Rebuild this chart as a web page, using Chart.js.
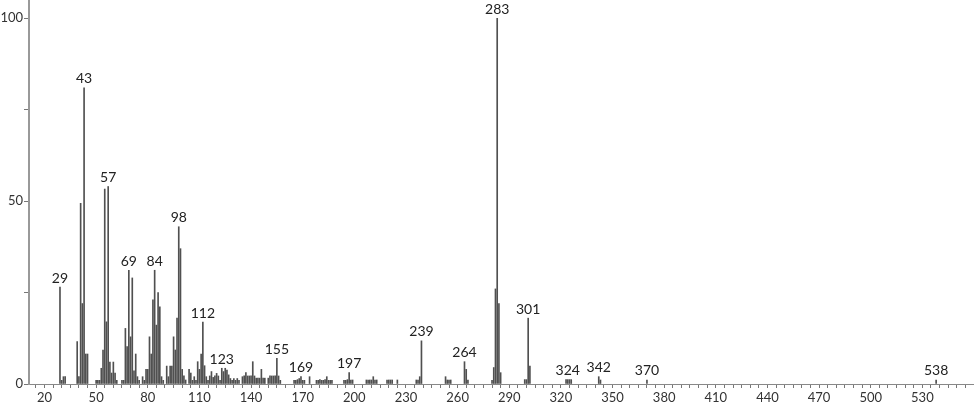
<!DOCTYPE html>
<html>
<head>
<meta charset="utf-8">
<script src="https://cdn.jsdelivr.net/npm/chart.js@4.4.0/dist/chart.umd.min.js"></script>
<style>
    html, body { margin: 0; padding: 0; background: #fff; }
    #box { width: 974px; height: 406px; }
</style>
</head>
<body>
<div id="box"><canvas id="espectro"></canvas></div>
<script>
// m/z and relative intensity
const massas = [
    29, 30, 31, 32, 39, 40, 41, 42, 43, 44, 45,
    50, 51, 52, 53, 54, 55, 56, 57, 58, 59, 60, 61, 62, 65, 66,
    67, 68, 69, 70, 71, 72, 73, 74, 75, 77, 78, 79, 80,
    81, 82, 83, 84, 85, 86, 87, 88, 89, 91, 92, 93, 94, 95, 96, 97, 98, 99,
    100, 101, 102, 104, 105, 106, 107, 108, 109, 110, 111, 112, 113, 114, 115,
    116, 117, 118, 119, 120, 121, 122, 123, 124, 125, 126, 127, 128, 129, 130,
    131, 132, 133, 135, 136, 137, 138, 139, 140, 141, 142, 143, 144, 145, 146,
    147, 148, 150, 151, 152, 153, 154, 155, 156, 157,
    165, 166, 167, 168, 169, 170, 171, 174, 178, 179, 180, 181, 182, 183, 184,
    185, 186, 187, 194, 195, 196, 197, 198, 199,
    207, 208, 209, 210, 211, 212, 213, 219, 220, 221, 222, 225,
    236, 237, 238, 239, 253, 254, 255, 256, 264, 265, 266,
    280, 281, 282, 283, 284, 285, 299, 300, 301, 302,
    323, 324, 325, 326, 342, 343, 370, 538
];
const intensidades = [
    26.5, 1, 2, 2, 11.6, 2, 49.4, 22, 81, 8.2, 8.2,
    1, 1, 1, 4.3, 9.3, 53.3, 17, 54, 6, 3, 6, 3, 1, 1, 1,
    15.2, 10.2, 31.1, 12.9, 29, 3.6, 8.2, 2, 1, 2, 1, 4, 4,
    12.9, 8.2, 23, 31.1, 16.1, 25, 21.1, 2, 1, 4.9, 2, 4.9, 4.9, 12.9, 9.3, 18, 43, 37,
    4, 2.2, 1.1, 4, 3, 1, 2, 1, 6.1, 4, 8.2, 16.9, 5, 2, 1,
    2.2, 3.4, 1.8, 2.2, 2.9, 2.2, 1, 4.3, 3.4, 4.3, 3.8, 2.5, 1.5, 1, 1.5,
    1, 1.5, 1, 2, 2.2, 3.1, 2.2, 2.2, 2.2, 6.1, 2.2, 1.6, 1.6, 1.6, 4,
    1.6, 1.6, 1.6, 2.2, 2.2, 2.2, 2.2, 7, 2.2, 1,
    1, 1, 1.2, 1.5, 2, 1, 1, 2, 1, 1, 1.2, 1, 1, 1.2, 2,
    1, 1, 1, 1, 1, 1.2, 3.1, 1.1, 1.1,
    1.1, 1.1, 1.1, 1.1, 2, 1.1, 1.1, 1.1, 1.1, 1.1, 1.1, 1.1,
    1.1, 1.1, 2, 11.8, 2, 1.1, 1.1, 1.1, 6.1, 4, 1.1,
    1, 4.5, 26, 100, 22, 3.1, 1.2, 1.2, 18, 4.9,
    1.2, 1.2, 1.2, 1.2, 2, 1.1, 1.1, 1.1
];
const picosRotulados = [29, 43, 57, 69, 84, 98, 112, 123, 155, 169, 197, 239, 264, 283, 301, 324, 342, 370, 538];
const rotulosX = [20, 50, 80, 110, 140, 170, 200, 230, 260, 290, 320, 350, 380, 410, 440, 470, 500, 530];
const rotulosY = [0, 50, 100];

const pontos = massas.map((m, i) => ({ x: m, y: intensidades[i] }));

// writes the m/z above the labelled peaks
const rotulos = {
    id: 'rotulos',
    afterDatasetsDraw(chart) {
        const ctx = chart.ctx;
        const sx = chart.scales.x;
        const sy = chart.scales.y;
        ctx.save();
        ctx.font = '14px Lato';
        ctx.fillStyle = '#222';
        ctx.textAlign = 'center';
        ctx.textBaseline = 'bottom';
        picosRotulados.forEach(m => {
            const i = massas.indexOf(m);
            ctx.fillText(String(m), sx.getPixelForValue(m), sy.getPixelForValue(intensidades[i]) - 2);
        });
        ctx.restore();
    }
};

// no extra room for the end labels, the axes run to the edges
function semMargem(s) {
    s.paddingTop = 0;
    s.paddingBottom = 0;
    s.paddingLeft = 0;
    s.paddingRight = 0;
}

new Chart(document.getElementById('espectro'), {
    type: 'bar',
    data: {
        datasets: [{
            data: pontos,
            backgroundColor: '#505050',
            barThickness: 1,
            borderWidth: 0
        }]
    },
    options: {
        responsive: true,
        maintainAspectRatio: false,
        animation: false,
        layout: { padding: 0 },
        plugins: {
            legend: { display: false },
            tooltip: { enabled: false }
        },
        scales: {
            x: {
                type: 'linear',
                offset: false,
                min: 11,
                max: 560,
                afterBuildTicks: s => {
                    const t = [];
                    for (let v = 15; v <= 555; v += 5) t.push({ value: v });
                    s.ticks = t;
                },
                afterFit: s => { s.height = 22; semMargem(s); },
                grid: { drawOnChartArea: false, offset: false, tickLength: 4, color: '#777' },
                border: { color: '#888', width: 1 },
                ticks: {
                    autoSkip: false,
                    maxRotation: 0,
                    padding: 2,
                    color: '#333',
                    font: { family: 'Lato', size: 13 },
                    callback: v => rotulosX.includes(v) ? v : ''
                }
            },
            y: {
                min: 0,
                max: 105,
                afterBuildTicks: s => {
                    s.ticks = [0, 25, 50, 75, 100].map(v => ({ value: v }));
                },
                afterFit: s => { s.width = 29; semMargem(s); },
                grid: { drawOnChartArea: false, tickLength: 5, color: '#777' },
                border: { color: '#999', width: 2 },
                ticks: {
                    padding: 1,
                    color: '#333',
                    font: { family: 'Lato', size: 13 },
                    callback: v => rotulosY.includes(v) ? v : ''
                }
            }
        }
    },
    plugins: [rotulos]
});
</script>
</body>
</html>
